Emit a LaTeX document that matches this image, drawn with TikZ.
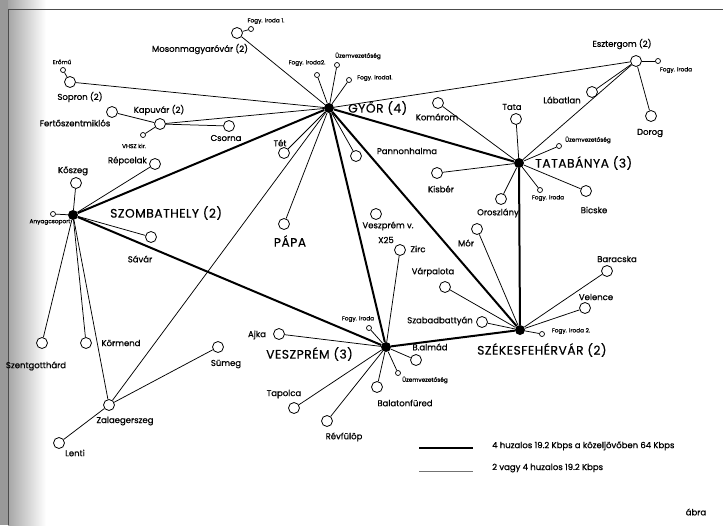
\documentclass[tikz,border=0pt]{standalone}
\usepackage{fontspec}
\setmainfont{Poppins}
\newfontfamily\labelfont{Poppins}[FakeBold=0.8]
\newfontfamily\titlefont{Poppins}[FakeBold=0.4, LetterSpace=4]
\usetikzlibrary{backgrounds}
\tikzset{
  hub/.style={circle, fill=black, inner sep=0pt, minimum size=10pt},
  site/.style={circle, draw, fill=white, line width=0.8pt, inner sep=0pt, minimum size=11pt},
  sub/.style={circle, draw, fill=white, line width=0.7pt, inner sep=0pt, minimum size=5pt},
  trunk/.style={line width=2pt},
  link/.style={line width=0.75pt},
  hublbl/.style={font=\titlefont\fontsize{12.3}{13}\selectfont, inner sep=0pt},
  lbl/.style={font=\labelfont\fontsize{8.5}{9}\selectfont, inner sep=0pt},
  tinylbl/.style={font=\labelfont\fontsize{5.8}{6}\selectfont, inner sep=0pt},
}
\begin{document}
\begin{tikzpicture}[x=1pt, y=-1pt]
\useasboundingbox (0,0) rectangle (723,525);
% paper and shaded left margin
\fill[white] (0,0) rectangle (723,525);
\fill[black!40] (0,0) rectangle (8,525);
\shade[left color=black!35, right color=white] (8,0) rectangle (46,525);
\draw[black!70, line width=0.9pt] (8,9) -- (723,9);
\draw[black!70, line width=0.9pt] (8,9) -- (8,525);

% regional centres
\node[hub] (gyor)  at (329,108) {};
\node[hub] (tata)  at (519,163) {};
\node[hub] (szomb) at (73,215) {};
\node[hub] (veszp) at (386,347) {};
\node[hub] (szfv)  at (520,330) {};

% local sites
\node[site] (sopron)   at (70,82) {};
\node[sub]  (eromu)    at (63,70) {};
\node[site] (kapuvar)  at (160,124) {};
\node[site] (ferto)    at (112,112) {};
\node[sub]  (vhsz)     at (143,135) {};
\node[site] (csorna)   at (229,126) {};
\node[site] (moson)    at (237,33) {};
\node[sub]  (mosfogy)  at (251,29) {};
\node[sub]  (gyfogyb)  at (317,75) {};
\node[sub]  (gyuzem)   at (337,65) {};
\node[sub]  (gyfogya)  at (349,80) {};
\node[site] (tet)      at (284,153) {};
\node[site] (pannon)   at (356,156) {};
\node[site] (papa)     at (284,224) {};
\node[site] (komarom)  at (438,103) {};
\node[site] (eszt)     at (636,61) {};
\node[sub]  (esztfogy) at (658,61) {};
\node[site] (labatlan) at (592,92) {};
\node[site] (dorog)    at (651,116) {};
\node[site] (tatav)    at (516,119) {};
\node[sub]  (tbuzem)   at (559,146) {};
\node[site] (kisber)   at (437,173) {};
\node[site] (oroszl)   at (501,199) {};
\node[sub]  (tbfogy)   at (540,190) {};
\node[site] (bicske)   at (586,191) {};
\node[site] (mor)      at (477,229) {};
\node[site] (varpal)   at (445,287) {};
\node[site] (szabad)   at (482,322) {};
\node[sub]  (szfvfogy) at (542,334) {};
\node[site] (velence)  at (585,308) {};
\node[site] (baracska) at (607,271) {};
\node[site] (zirc)     at (400,250) {};
\node[site] (xhuszot)  at (376,214) {};
\node[sub]  (vpfogy)   at (369,328) {};
\node[site] (ajka)     at (279,334) {};
\node[site] (balmadi)  at (416,360) {};
\node[sub]  (vpuzem)   at (398,373) {};
\node[site] (bfured)   at (377,387) {};
\node[site] (tapolca)  at (294,408) {};
\node[site] (revfulop) at (327,421) {};
\node[site] (koszeg)   at (76,183) {};
\node[sub]  (anyag)    at (53,214) {};
\node[site] (repcelak) at (155,164) {};
\node[site] (sarvar)   at (151,237) {};
\node[site] (szentg)   at (42,343) {};
\node[site] (kormend)  at (86,343) {};
\node[site] (zala)     at (109,405) {};
\node[site] (sumeg)    at (218,347) {};
\node[site] (lenti)    at (59,443) {};

% backbone
\draw[trunk] (gyor) -- (szomb);
\draw[trunk] (gyor) -- (tata);
\draw[trunk] (gyor) -- (veszp);
\draw[trunk] (gyor) -- (szfv);
\draw[trunk] (tata) -- (szfv);
\draw[trunk] (szomb) -- (veszp);
\draw[trunk] (veszp) -- (szfv);

% access links
\draw[link] (sopron) -- (gyor);
\draw[link] (sopron) -- (eromu);
\draw[link] (kapuvar) -- (gyor);
\draw[link] (kapuvar) -- (ferto);
\draw[link] (kapuvar) -- (vhsz);
\draw[link] (kapuvar) -- (csorna);
\draw[link] (moson) -- (gyor);
\draw[link] (moson) -- (mosfogy);
\draw[link] (gyfogyb) -- (gyor);
\draw[link] (gyuzem) -- (gyor);
\draw[link] (gyfogya) -- (gyor);
\draw[link] (tet) -- (gyor);
\draw[link] (pannon) -- (gyor);
\draw[link] (papa) -- (gyor);
\draw[link] (zala) -- (gyor);
\draw[link] (eszt) -- (gyor);
\draw[link] (eszt) -- (tata);
\draw[link] (eszt) -- (labatlan);
\draw[link] (eszt) -- (dorog);
\draw[link] (eszt) -- (esztfogy);
\draw[link] (komarom) -- (tata);
\draw[link] (tatav) -- (tata);
\draw[link] (tbuzem) -- (tata);
\draw[link] (kisber) -- (tata);
\draw[link] (oroszl) -- (tata);
\draw[link] (tbfogy) -- (tata);
\draw[link] (bicske) -- (tata);
\draw[link] (mor) -- (szfv);
\draw[link] (varpal) -- (szfv);
\draw[link] (szabad) -- (szfv);
\draw[link] (szfvfogy) -- (szfv);
\draw[link] (velence) -- (szfv);
\draw[link] (baracska) -- (szfv);
\draw[link] (zirc) -- (veszp);
\draw[link] (vpfogy) -- (veszp);
\draw[link] (ajka) -- (veszp);
\draw[link] (balmadi) -- (veszp);
\draw[link] (vpuzem) -- (veszp);
\draw[link] (bfured) -- (veszp);
\draw[link] (tapolca) -- (veszp);
\draw[link] (revfulop) -- (veszp);
\draw[link] (koszeg) -- (szomb);
\draw[link] (anyag) -- (szomb);
\draw[link] (repcelak) -- (szomb);
\draw[link] (sarvar) -- (szomb);
\draw[link] (szentg) -- (szomb);
\draw[link] (kormend) -- (szomb);
\draw[link] (zala) -- (szomb);
\draw[link] (zala) -- (sumeg);
\draw[link] (zala) -- (lenti);

% centre names
\node[hublbl, anchor=west] (lgyor)  at (348,108) {GYŐR (4)};
\node[hublbl, anchor=west] (ltata)  at (535,163) {TATABÁNYA (3)};
\node[hublbl, anchor=west] (lszomb) at (110,213) {SZOMBATHELY (2)};
\node[hublbl, anchor=west] (lveszp) at (266,354) {VESZPRÉM (3)};
\node[hublbl, anchor=west] (lszfv)  at (477,350) {SZÉKESFEHÉRVÁR (2)};
\node[hublbl] (lpapa) at (290,241) {PÁPA};

% site names
\node[tinylbl] (leromu) at (62,62) {Erőmű};
\node[lbl] (lsopron) at (80,97) {Sopron (2)};
\node[lbl] (lkapuvar) at (159,110) {Kapuvár (2)};
\node[lbl] (lferto) at (75,123) {Fertőszentmiklós};
\node[tinylbl] (lvhsz) at (134,146) {VHSZ kir.};
\node[lbl] (lcsorna) at (226,138) {Csorna};
\node[lbl] (lmoson) at (200,49) {Mosonmagyaróvár (2)};
\node[tinylbl] (lmosfogy) at (266,21) {Fogy. iroda 1.};
\node[tinylbl] (lgyfogyb) at (307,63) {Fogy. iroda2.};
\node[tinylbl] (lgyuzem) at (358,56) {Üzemvezetőség};
\node[tinylbl, anchor=west] (lgyfogya) at (357,78) {Fogy. iroda1.};
\node[lbl] (ltet) at (280,143) {Tét};
\node[lbl] (lpannon) at (407,151) {Pannonhalma};
\node[lbl] (lkomarom) at (437,117) {Komárom};
\node[lbl] (leszt) at (622,44) {Esztergom (2)};
\node[tinylbl] (lesztfogy) at (676,70) {Fogy. iroda};
\node[lbl] (llabatlan) at (562,100) {Lábatlan};
\node[lbl] (ldorog) at (650,133) {Dorog};
\node[lbl] (ltatav) at (512,107) {Tata};
\node[tinylbl] (ltbuzem) at (588,140) {Üzemvezetőség};
\node[lbl] (lkisber) at (441,189) {Kisbér};
\node[lbl] (loroszl) at (498,213) {Oroszlány};
\node[tinylbl] (ltbfogy) at (548,198) {Fogy. iroda};
\node[lbl] (lbicske) at (594,210) {Bicske};
\node[lbl] (lmor) at (466,243) {Mór};
\node[lbl] (lvarpal) at (433,272) {Várpalota};
\node[lbl] (lszabad) at (440,321) {Szabadbattyán};
\node[tinylbl] (lszfvfogy) at (571,331) {Fogy. iroda 2.};
\node[lbl] (lvelence) at (596,297) {Velence};
\node[lbl] (lbaracska) at (617,259) {Baracska};
\node[lbl] (lzirc) at (418,249) {Zirc};
\node[lbl] (lxa) at (388,226) {Veszprém v.};
\node[lbl] (lxb) at (386,240) {X25};
\node[tinylbl] (lvpfogy) at (358,319) {Fogy. iroda};
\node[lbl] (lajka) at (257,335) {Ajka};
\node[lbl] (lbalmadi) at (430,347) {B.almád};
\node[tinylbl] (lvpuzem) at (425,380) {Üzemvezetőség};
\node[lbl] (lbfured) at (405,403) {Balatonfüred};
\node[lbl] (ltapolca) at (284,394) {Tapolca};
\node[lbl] (lrevfulop) at (344,437) {Révfülöp};
\node[lbl] (lkoszeg) at (73,171) {Kőszeg};
\node[tinylbl] (lanyag) at (50,222) {Anyagcsoport};
\node[lbl, anchor=east] (lrepcelak) at (147,161) {Répcelak};
\node[lbl] (lsarvar) at (140,259) {Sávár};
\node[lbl] (lszentg) at (36,366) {Szentgotthárd};
\node[lbl] (lkormend) at (121,343) {Körmend};
\node[lbl] (lzala) at (125,421) {Zalaegerszeg};
\node[lbl] (lsumeg) at (226,364) {Sümeg};
\node[lbl] (llenti) at (75,453) {Lenti};

% legend
\coordinate (ka) at (419,448);
\coordinate (kb) at (473,448);
\coordinate (kc) at (419,471);
\coordinate (kd) at (473,471);
\draw[trunk] (ka) -- (kb);
\draw[line width=0.6pt, black!55] (kc) -- (kd);
\node[lbl, anchor=west] (lega) at (492,446) {4 huzalos 19.2 Kbps a közeljövőben 64 Kbps};
\node[lbl, anchor=west] (legb) at (492,468) {2 vagy 4 huzalos 19.2 Kbps};
\node[lbl] (labra) at (696,512) {ábra};
\end{tikzpicture}
\end{document}
